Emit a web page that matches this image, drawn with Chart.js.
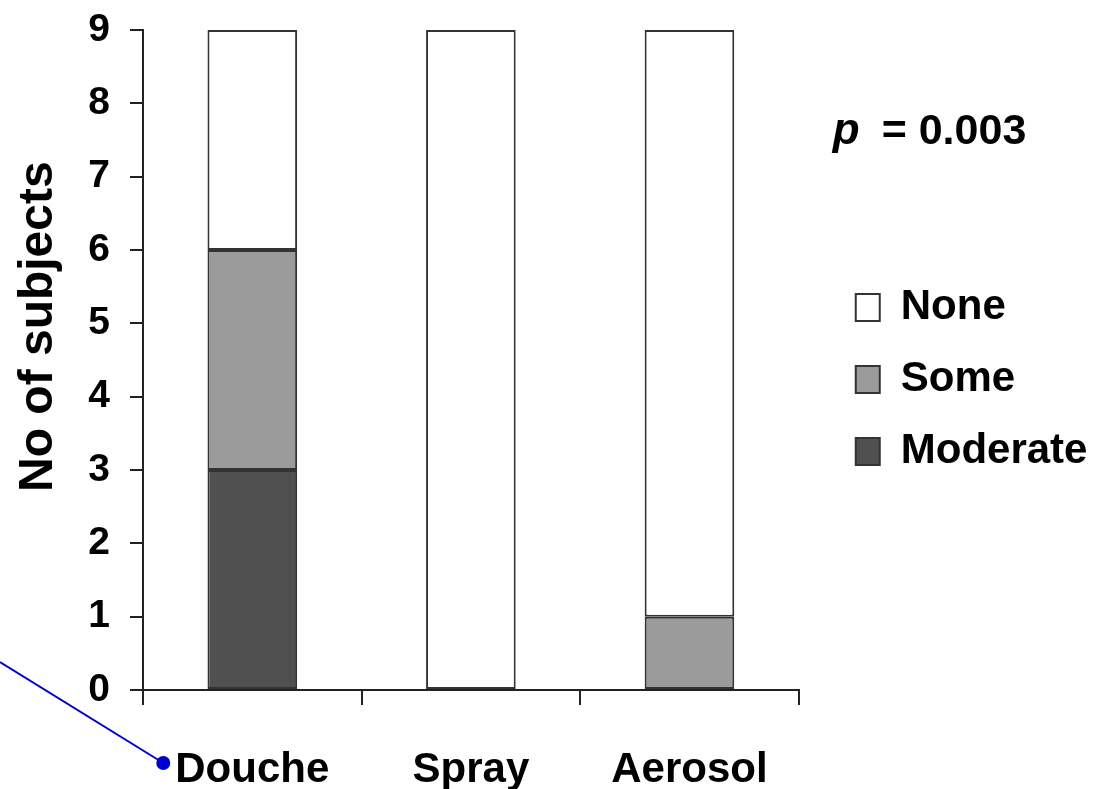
<!DOCTYPE html>
<html>
<head>
<meta charset="utf-8">
<script src="https://cdn.jsdelivr.net/npm/chart.js@4"></script>
<style>
  html, body { margin: 0; padding: 0; background: #fff; }
  #wrap { width: 1099px; height: 789px; }
</style>
</head>
<body>
<div id="wrap"><canvas id="myChart"></canvas></div>
<script>
// data
const categories = ['Douche', 'Spray', 'Aerosol'];
const moderate = [3, 0, 0];
const some = [3, 0, 1];
const none = [3, 9, 8];
const yTicks = [0, 1, 2, 3, 4, 5, 6, 7, 8, 9];
const pText = '= 0.003';

const FONT = "'Liberation Sans', Arial, sans-serif";
const ctx = document.getElementById('myChart').getContext('2d');

// p value and the blue pointer line drawn on top of the chart
const extras = {
  id: 'extras',
  afterLayout(chart) {
    // nudge the legend a bit right and up, like the original figure
    const lg = chart.legend;
    if (!lg) return;
    lg.left += 27; lg.right += 27;
    lg.top -= 30; lg.bottom -= 30;
  },
  afterDraw(chart) {
    const c = chart.ctx;
    const area = chart.chartArea;
    c.save();
    c.fillStyle = '#000';
    c.textBaseline = 'alphabetic';
    c.font = 'italic bold 44px ' + FONT;
    const px = area.right + 34;
    const py = area.top + 114;
    c.fillText('p', px, py);
    const pw = c.measureText('p').width;
    c.font = 'bold 43px ' + FONT;
    c.fillText(pText, px + pw + 22, py);

    // pointer to the first category label
    const xs = chart.scales.x;
    c.font = 'bold 42px ' + FONT;
    const lw = c.measureText(categories[0]).width;
    const dx = xs.getPixelForValue(0) - lw / 2 - 12;
    const dy = 763;
    c.strokeStyle = '#0000cc';
    c.fillStyle = '#0000cc';
    c.lineWidth = 2;
    c.beginPath();
    c.moveTo(0, dy - 101);
    c.lineTo(dx, dy);
    c.stroke();
    c.beginPath();
    c.arc(dx, dy, 7, 0, Math.PI * 2);
    c.fill();
    c.restore();
  }
};

const barStyle = {
  borderColor: '#333',
  borderWidth: 2,
  borderSkipped: false,
  barPercentage: 0.41,
  categoryPercentage: 1,
};

const chart = new Chart(ctx, {
  type: 'bar',
  data: {
    labels: categories,
    datasets: [
      { label: 'Moderate', data: moderate, backgroundColor: '#505050', ...barStyle },
      { label: 'Some', data: some, backgroundColor: '#9b9b9b', ...barStyle },
      { label: 'None', data: none, backgroundColor: '#ffffff', ...barStyle },
    ],
  },
  plugins: [extras],
  options: {
    responsive: true,
    maintainAspectRatio: false,
    animation: false,
    layout: { padding: { top: 30, right: 34, bottom: 0, left: 0 } },
    plugins: {
      tooltip: { enabled: false },
      legend: {
        position: 'right',
        align: 'center',
        reverse: true,
        labels: {
          color: '#000',
          font: { family: FONT, size: 42, weight: 'bold' },
          boxWidth: 24,
          boxHeight: 27,
          padding: 30,
        },
      },
    },
    scales: {
      x: {
        stacked: true,
        offset: true,
        afterFit(scale) { scale.height = 99; },
        border: { display: true, color: '#222', width: 2 },
        grid: { display: true, offset: true, drawOnChartArea: false, drawTicks: true, tickLength: 15, color: '#222', lineWidth: 2 },
        ticks: { color: '#000', padding: 40, font: { family: FONT, size: 42, weight: 'bold' } },
      },
      y: {
        stacked: true,
        min: 0,
        max: 9,
        afterFit(scale) {
          scale.width = 143;
          scale.paddingTop = 0;
          scale.paddingBottom = 0;
        },
        afterBuildTicks(scale) { scale.ticks = yTicks.map(v => ({ value: v })); },
        border: { display: true, color: '#222', width: 2 },
        grid: { display: true, drawOnChartArea: false, drawTicks: true, tickLength: 13, color: '#222', lineWidth: 2 },
        ticks: { color: '#000', padding: 20, font: { family: FONT, size: 39, weight: 'bold' } },
        title: {
          display: true,
          text: '     No of subjects',
          color: '#000',
          padding: { top: 10, bottom: 0 },
          font: { family: FONT, size: 48, weight: 'bold' },
        },
      },
    },
  },
});
</script>
</body>
</html>
